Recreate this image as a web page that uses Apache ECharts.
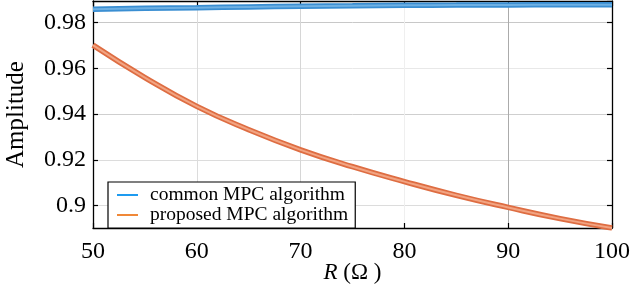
<!DOCTYPE html>
<html>
<head>
<meta charset="utf-8">
<script src="https://cdn.jsdelivr.net/npm/echarts@6/dist/echarts.min.js"></script>
<style>html,body{margin:0;padding:0;background:#fff}#c{width:631px;height:295px}</style>
</head>
<body>
<div id="c"></div>
<script>
var rValues = [50, 55, 60, 65, 70, 75, 80, 85, 90, 95, 100];
var commonMPC = [0.9859, 0.9863, 0.9866, 0.9869, 0.9872, 0.9874, 0.9876, 0.9877, 0.9878, 0.9879, 0.9879];
var proposedMPC = [0.9702, 0.9560, 0.9434, 0.9332, 0.9244, 0.9170, 0.9105, 0.9045, 0.8992, 0.8943, 0.8902];
var seriesNames = ['common MPC algorithm', 'proposed MPC algorithm'];
var xTicks = [50, 60, 70, 80, 90, 100];
var yMin = 0.8902, yMax = 0.9895;

function pairs(xs, ys) { return xs.map(function (x, i) { return [x, ys[i]]; }); }

var font = 'Liberation Serif';
var chart = echarts.init(document.getElementById('c'), null, {renderer: 'canvas'});
chart.setOption({
  animation: false,
  backgroundColor: '#fff',
  grid: {left: 93, right: 19, top: 1, bottom: 67, show: false, outerBoundsMode: 'none', containLabel: false},
  legend: {
    left: 108, top: 182, orient: 'vertical', itemGap: 0,
    backgroundColor: '#fff', borderColor: '#000', borderWidth: 1.2,
    padding: [3, 7, 3, 9],
    icon: 'rect', itemWidth: 21, itemHeight: 2,
    textStyle: {fontFamily: font, fontSize: 19.5, lineHeight: 17.5, color: '#000', padding: [0, 0, 0, 7]},
    data: [
      {name: seriesNames[0], itemStyle: {color: '#1E9BF0'}},
      {name: seriesNames[1], itemStyle: {color: '#F08838'}}
    ]
  },
  xAxis: [{
    type: 'value', min: xTicks[0], max: xTicks[xTicks.length - 1], interval: 10,
    position: 'bottom',
    axisLine: {show: true, onZero: false, lineStyle: {color: '#000', width: 1.3}},
    axisTick: {show: true, inside: true, length: 5, lineStyle: {color: '#000', width: 1.2}},
    axisLabel: {fontFamily: font, fontSize: 24, color: '#000', margin: 12},
    splitLine: {show: true, lineStyle: {color: ['#dcdcdc', '#dcdcdc', '#d6d6d6', '#efefef', '#ababab', '#dcdcdc'], width: 1}},
    name: '{i|R} (Ω )', nameLocation: 'middle', nameGap: 33, nameMoveOverlap: false,
    nameTextStyle: {fontFamily: font, fontSize: 23, color: '#000',
      rich: {i: {fontFamily: font, fontSize: 23, fontStyle: 'italic', color: '#000'}}}
  }, {
    type: 'value', min: xTicks[0], max: xTicks[xTicks.length - 1], interval: 10,
    position: 'top',
    axisLine: {show: true, onZero: false, lineStyle: {color: '#000', width: 1.3}},
    axisTick: {show: true, inside: true, length: 5, lineStyle: {color: '#000', width: 1.2}},
    axisLabel: {show: false}, splitLine: {show: false}
  }],
  yAxis: [{
    type: 'value', min: yMin, max: yMax, splitNumber: 5,
    position: 'left',
    axisLine: {show: true, onZero: false, lineStyle: {color: '#000', width: 1.3}},
    axisTick: {show: true, inside: true, length: 5, lineStyle: {color: '#000', width: 1.2}},
    axisLabel: {fontFamily: font, fontSize: 24, color: '#000', margin: 7,
      showMinLabel: false, showMaxLabel: false,
      formatter: function (v) { return String(+v.toFixed(4)); }},
    splitLine: {show: true, lineStyle: {color: ['#dcdcdc', '#dcdcdc', '#dcdcdc', '#cfcfcf', '#e8e8e8', '#c8c8c8', '#dcdcdc'], width: 1}},
    name: 'Amplitude', nameLocation: 'middle', nameGap: 64,
    nameTextStyle: {fontFamily: font, fontSize: 25, color: '#000'}
  }, {
    type: 'value', min: yMin, max: yMax, splitNumber: 5,
    position: 'right',
    axisLine: {show: true, onZero: false, lineStyle: {color: '#000', width: 1.3}},
    axisTick: {show: true, inside: true, length: 5, lineStyle: {color: '#000', width: 1.2}},
    axisLabel: {show: false}, splitLine: {show: false}
  }],
  series: [
    {name: seriesNames[0], type: 'line', data: pairs(rValues, commonMPC), smooth: true,
     showSymbol: false, lineStyle: {color: '#3A8ED2', width: 5.5}, itemStyle: {color: '#3A8ED2'}, z: 3},
    {name: seriesNames[0] + ' ', type: 'line', data: pairs(rValues, commonMPC), smooth: true,
     showSymbol: false, lineStyle: {color: '#6EB0E3', width: 2}, z: 4, silent: true},
    {name: seriesNames[1], type: 'line', data: pairs(rValues, proposedMPC), smooth: true,
     showSymbol: false, lineStyle: {color: '#DE6D42', width: 5.5}, itemStyle: {color: '#DE6D42'}, z: 3},
    {name: seriesNames[1] + ' ', type: 'line', data: pairs(rValues, proposedMPC), smooth: true,
     showSymbol: false, lineStyle: {color: '#F2A482', width: 2}, z: 4, silent: true}
  ]
});
</script>
</body>
</html>
